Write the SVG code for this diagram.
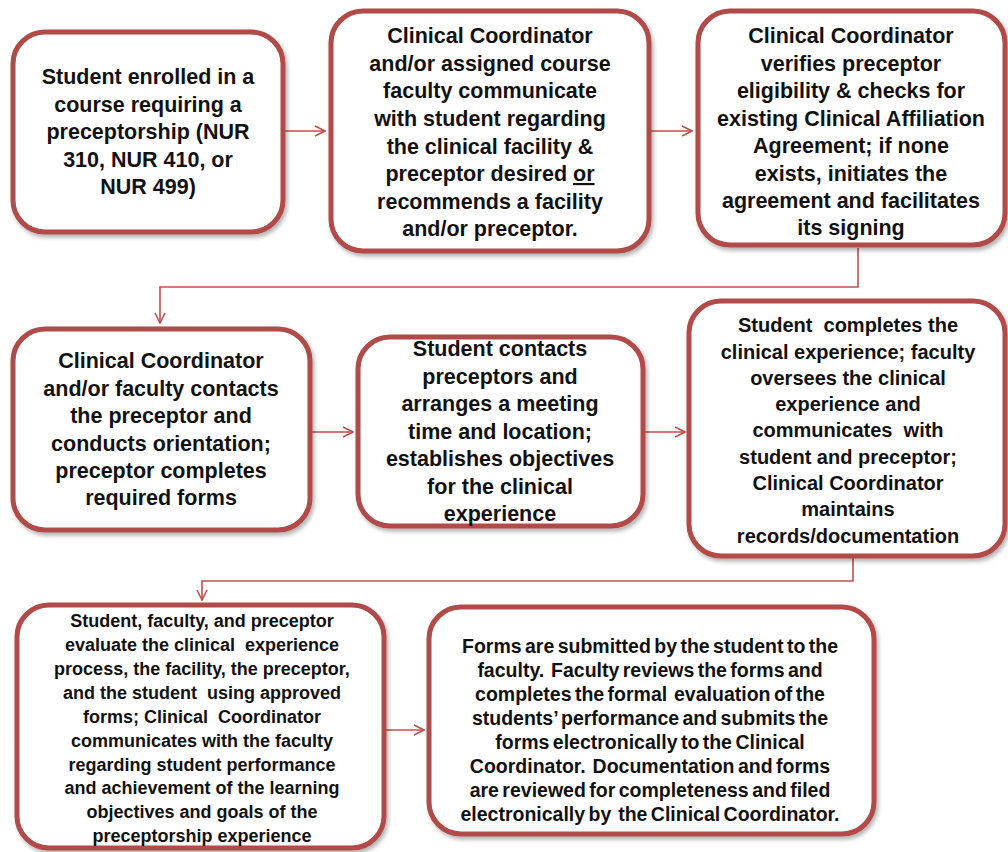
<svg xmlns="http://www.w3.org/2000/svg" width="1008" height="852" viewBox="0 0 1008 852">
<defs>
<style>
.box{fill:#fff;stroke:#b04b48;stroke-width:5;filter:url(#sh)}
.t{font-family:"Liberation Sans",Arial,sans-serif;font-weight:bold;font-size:21.5px;fill:#111;text-anchor:middle;white-space:pre}
.s{font-size:20px}
.m{font-size:18px}
.n{font-size:19.5px;word-spacing:-2px}
.c{fill:none;stroke:#c0504d;stroke-width:1.6}
</style>
<filter id="sh" x="-10%" y="-10%" width="120%" height="120%">
<feDropShadow dx="2" dy="3" stdDeviation="2" flood-color="#000" flood-opacity="0.3"/>
</filter>
<marker id="ah" viewBox="0 0 12 12" refX="11" refY="6" markerWidth="12" markerHeight="12" markerUnits="userSpaceOnUse" orient="auto">
<path d="M1,1 L11,6 L1,11" fill="none" stroke="#c0504d" stroke-width="1.6"/>
</marker>
</defs>
<rect width="1008" height="852" fill="#fff"/>
<g id="connectors">
<path class="c" d="M283,131 H325" marker-end="url(#ah)"/>
<path class="c" d="M650,131 H692" marker-end="url(#ah)"/>
<path class="c" d="M858,248 V287 H160 V323" marker-end="url(#ah)"/>
<path class="c" d="M310,432 H353" marker-end="url(#ah)"/>
<path class="c" d="M643,432 H685" marker-end="url(#ah)"/>
<path class="c" d="M853,558 V581 H202 V600" marker-end="url(#ah)"/>
<path class="c" d="M385,730 H424" marker-end="url(#ah)"/>
</g>
<g id="n1">
<rect class="box" x="13" y="32" width="270" height="200" rx="32"/>
<text class="t" x="148" y="84">Student enrolled in a</text>
<text class="t" x="148" y="112">course requiring a</text>
<text class="t" x="148" y="139">preceptorship (NUR</text>
<text class="t" x="148" y="167">310, NUR 410, or</text>
<text class="t" x="148" y="194">NUR 499)</text>
</g>
<g id="n2">
<rect class="box" x="331" y="11" width="318" height="240" rx="32"/>
<text class="t" x="490" y="43">Clinical Coordinator</text>
<text class="t" x="490" y="71">and/or assigned course</text>
<text class="t" x="490" y="98">faculty communicate</text>
<text class="t" x="490" y="126">with student regarding</text>
<text class="t" x="490" y="154">the clinical facility &amp;</text>
<text class="t" x="490" y="181">preceptor desired <tspan text-decoration="underline">or</tspan></text>
<text class="t" x="490" y="209">recommends a facility</text>
<text class="t" x="490" y="236">and/or preceptor.</text>
</g>
<g id="n3">
<rect class="box" x="698" y="11" width="307" height="234" rx="32"/>
<text class="t" x="851" y="43">Clinical Coordinator</text>
<text class="t" x="851" y="71">verifies preceptor</text>
<text class="t" x="851" y="98">eligibility &amp; checks for</text>
<text class="t" x="851" y="126">existing Clinical Affiliation</text>
<text class="t" x="851" y="153">Agreement; if none</text>
<text class="t" x="851" y="181">exists, initiates the</text>
<text class="t" x="851" y="208">agreement and facilitates</text>
<text class="t" x="851" y="235">its signing</text>
</g>
<g id="n4">
<rect class="box" x="13" y="329" width="297" height="201" rx="32"/>
<text class="t" x="161" y="368">Clinical Coordinator</text>
<text class="t" x="161" y="396">and/or faculty contacts</text>
<text class="t" x="161" y="423">the preceptor and</text>
<text class="t" x="161" y="451">conducts orientation;</text>
<text class="t" x="161" y="478">preceptor completes</text>
<text class="t" x="161" y="505">required forms</text>
</g>
<g id="n5">
<rect class="box" x="358" y="337" width="285" height="189" rx="32"/>
<text class="t" x="500" y="356">Student contacts</text>
<text class="t" x="500" y="384">preceptors and</text>
<text class="t" x="500" y="411">arranges a meeting</text>
<text class="t" x="500" y="439">time and location;</text>
<text class="t" x="500" y="466">establishes objectives</text>
<text class="t" x="500" y="494">for the clinical</text>
<text class="t" x="500" y="521">experience</text>
</g>
<g id="n6">
<rect class="box" x="689" y="301" width="316" height="255" rx="32"/>
<text class="t s" x="848" y="332">Student  completes the</text>
<text class="t s" x="848" y="359">clinical experience; faculty</text>
<text class="t s" x="848" y="385">oversees the clinical</text>
<text class="t s" x="848" y="411">experience and</text>
<text class="t s" x="848" y="437">communicates  with</text>
<text class="t s" x="848" y="464">student and preceptor;</text>
<text class="t s" x="848" y="490">Clinical Coordinator</text>
<text class="t s" x="848" y="516">maintains</text>
<text class="t s" x="848" y="543">records/documentation</text>
</g>
<g id="n7">
<rect class="box" x="17" y="605" width="367" height="243" rx="32"/>
<text class="t m" x="202" y="627">Student, faculty, and preceptor</text>
<text class="t m" x="202" y="651">evaluate the clinical  experience</text>
<text class="t m" x="202" y="675">process, the facility, the preceptor,</text>
<text class="t m" x="202" y="699">and the student  using approved</text>
<text class="t m" x="202" y="723">forms; Clinical  Coordinator</text>
<text class="t m" x="202" y="747">communicates with the faculty</text>
<text class="t m" x="202" y="771">regarding student performance</text>
<text class="t m" x="202" y="794">and achievement of the learning</text>
<text class="t m" x="202" y="818">objectives and goals of the</text>
<text class="t m" x="202" y="842">preceptorship experience</text>
</g>
<g id="n8">
<rect class="box" x="429" y="607" width="445" height="227" rx="32"/>
<text class="t n" x="650" y="653">Forms are submitted by the student to the</text>
<text class="t n" x="650" y="677">faculty.  Faculty reviews the forms and</text>
<text class="t n" x="650" y="701">completes the formal  evaluation of the</text>
<text class="t n" x="650" y="725">students’ performance and submits the</text>
<text class="t n" x="650" y="749">forms electronically to the Clinical</text>
<text class="t n" x="650" y="773">Coordinator.  Documentation and forms</text>
<text class="t n" x="650" y="797">are reviewed for completeness and filed</text>
<text class="t n" x="650" y="821">electronically by  the Clinical Coordinator.</text>
</g>
</svg>
